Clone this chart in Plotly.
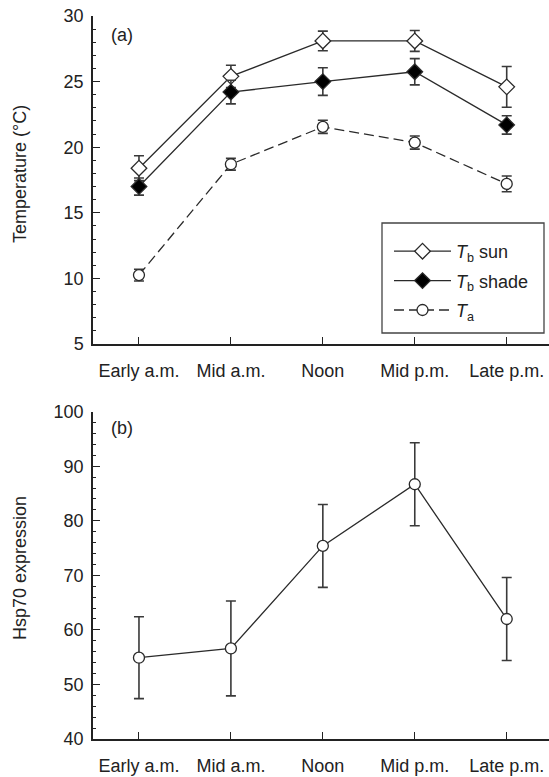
import plotly.graph_objects as go

categories = ["Early a.m.", "Mid a.m.", "Noon", "Mid p.m.", "Late p.m."]

tb_sun = [18.4, 25.4, 28.1, 28.1, 24.6]
tb_sun_err = [0.95, 0.85, 0.75, 0.8, 1.55]

tb_shade = [17.0, 24.2, 25.0, 25.75, 21.7]
tb_shade_err = [0.65, 0.9, 1.05, 1.0, 0.7]

ta = [10.25, 18.7, 21.55, 20.35, 17.2]
ta_err = [0.45, 0.45, 0.5, 0.5, 0.6]

hsp70 = [54.9, 56.6, 75.4, 86.7, 62.0]
hsp70_err = [7.5, 8.7, 7.6, 7.6, 7.6]

xpos = list(range(len(categories)))

LINE = "#2a2a2a"
ERR = "#3a3a3a"
FONT = "Liberation Sans, Arial, sans-serif"

# pixel geometry helpers (figure 549x777, margins l=93 r=0 t=16 b=38)
L, T, B, W, H = 93, 16, 38, 549, 777
PW, PH = W - L, H - T - B
def px(xp):
    return (xp - L) / PW
def py(yp):
    return (H - B - yp) / PH

fig = go.Figure()

def add(y, err, name, symbol, fill, dash, yaxis, xaxis, group, showlegend=True):
    fig.add_trace(go.Scatter(
        x=xpos, y=y, name=name, mode="lines+markers",
        xaxis=xaxis, yaxis=yaxis, showlegend=showlegend, legendgroup=group,
        line=dict(color=LINE, width=1.3, dash=dash),
        marker=dict(symbol=symbol, size=12 if "diamond" in symbol else 11,
                    color=fill, line=dict(color=LINE, width=1.3)),
        error_y=dict(type="data", array=err, visible=True,
                     color=ERR, thickness=1.6, width=5),
    ))

add(tb_sun, tb_sun_err, "<i>T</i><sub>b</sub> sun", "diamond", "white", "solid", "y", "x", "g1")
add(tb_shade, tb_shade_err, "<i>T</i><sub>b</sub> shade", "diamond", "black", "solid", "y", "x", "g2")
add(ta, ta_err, "<i>T</i><sub>a</sub>", "circle", "white", "10px,5px", "y", "x", "g3")
add(hsp70, hsp70_err, "Hsp70", "circle", "white", "solid", "y2", "x2", "g4", showlegend=False)

xcommon = dict(
    tickmode="array", tickvals=xpos, ticktext=categories,
    range=[-0.5, 4.46], showline=True, linecolor="#222", linewidth=1.5,
    ticks="inside", ticklen=7, tickwidth=1.3, tickcolor="#222",
    showgrid=False, zeroline=False, ticklabelstandoff=10,
    tickfont=dict(family=FONT, size=18, color="#222"),
)
ycommon = dict(
    showline=True, linecolor="#222", linewidth=1.5,
    ticks="inside", ticklen=7, tickwidth=1.3, tickcolor="#222",
    showgrid=False, zeroline=False, ticklabelstandoff=4,
    tickfont=dict(family=FONT, size=18, color="#222"),
)

fig.update_layout(
    width=W, height=H,
    margin=dict(l=L, r=0, t=T, b=B),
    paper_bgcolor="white", plot_bgcolor="white",
    font=dict(family=FONT, size=18, color="#222"),
    xaxis=dict(domain=[0, 1], anchor="y", **xcommon),
    xaxis2=dict(domain=[0, 1], anchor="y2", **xcommon),
    yaxis=dict(domain=[py(344), 1], anchor="x", range=[5, 30], dtick=5,
               minor=dict(dtick=1, ticks="inside", ticklen=3.5, tickcolor="#222", tickwidth=1.2),
               **ycommon),
    yaxis2=dict(domain=[0, py(411.7)], anchor="x2", range=[40, 100], dtick=10,
                minor=dict(dtick=2, ticks="inside", ticklen=3.5, tickcolor="#222", tickwidth=1.2),
                **ycommon),
    legend=dict(x=px(389), y=py(233), xanchor="left", yanchor="top",
                borderwidth=0, bgcolor="rgba(0,0,0,0)",
                font=dict(family=FONT, size=18, color="#222"),
                itemwidth=57, tracegroupgap=3),
    showlegend=True,
)

# legend frame
fig.add_shape(type="rect", xref="paper", yref="paper",
              x0=px(382), x1=px(544), y0=py(333), y1=py(223),
              line=dict(color="#444", width=1.3), fillcolor="white", layer="below")

# axis titles
fig.add_annotation(text="Temperature (°C)", xref="paper", yref="paper",
                   x=px(20), y=py(174), textangle=-90, showarrow=False,
                   xanchor="center", yanchor="middle",
                   font=dict(family=FONT, size=18, color="#222"))
fig.add_annotation(text="Hsp70 expression", xref="paper", yref="paper",
                   x=px(20), y=py(568), textangle=-90, showarrow=False,
                   xanchor="center", yanchor="middle",
                   font=dict(family=FONT, size=18, color="#222"))

fig.add_annotation(text="(a)", xref="paper", yref="paper", x=px(109), y=py(35),
                   xanchor="left", yanchor="middle", showarrow=False,
                   font=dict(family=FONT, size=18, color="#222"))
fig.add_annotation(text="(b)", xref="paper", yref="paper", x=px(109), y=py(428),
                   xanchor="left", yanchor="middle", showarrow=False,
                   font=dict(family=FONT, size=18, color="#222"))

fig.write_html("out.html", config={"displayModeBar": False},
               post_script="document.body.style.margin='0';document.body.style.overflow='hidden';")
